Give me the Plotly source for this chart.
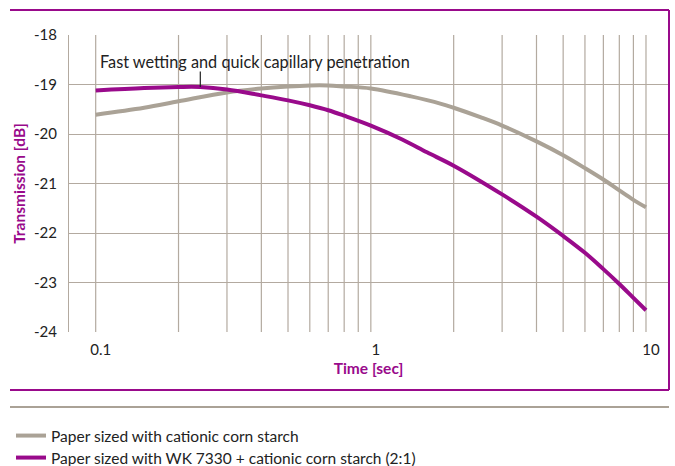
import numpy as np
import plotly.graph_objects as go

# Data
t_gray = [0.1, 0.15, 0.2, 0.3, 0.4, 0.5, 0.6, 0.7, 0.8, 1.0, 1.4, 1.8, 2, 2.5, 3, 4, 5, 6, 7, 8, 9, 10]
v_gray = [-19.61, -19.47, -19.34, -19.16, -19.08, -19.04, -19.02, -19.02, -19.04, -19.08,
          -19.24, -19.39, -19.47, -19.66, -19.83, -20.15, -20.43, -20.69, -20.92, -21.14, -21.33, -21.48]
t_purple = [0.1, 0.15, 0.2, 0.24, 0.3, 0.4, 0.5, 0.6, 0.7, 0.8, 1.0, 1.3, 1.6, 2, 3, 4, 5, 6, 7, 8, 9, 10]
v_purple = [-19.12, -19.07, -19.05, -19.05, -19.10, -19.22, -19.32, -19.42, -19.52, -19.63, -19.83,
            -20.11, -20.37, -20.64, -21.22, -21.67, -22.06, -22.40, -22.73, -23.03, -23.31, -23.56]
name_gray = "Paper sized with cationic corn starch"
name_purple = "Paper sized with WK 7330 + cationic corn starch (2:1)"
x_ticks = [0.1, 1, 10]
x_ticklabels = ["0.1", "1", "10"]
y_ticks = [-24, -23, -22, -21, -20, -19, -18]
y_ticklabels = ["-24", "-23", "-22", "-21", "-20", "-19", "-18"]
annotation_text = "Fast wetting and quick capillary penetration"
annotation_t = 0.24
annotation_v = -19.05

PURPLE = "#990a8b"
GRAY = "#aaa296"
GRID = "#b3aaa0"
FONT = "Lato"

fig = go.Figure()
fig.add_trace(go.Scatter(x=t_gray, y=v_gray, mode="lines", name=name_gray, legend="legend",
                         line=dict(color=GRAY, width=4, shape="spline", smoothing=1.0)))
fig.add_trace(go.Scatter(x=t_purple, y=v_purple, mode="lines", name=name_purple, legend="legend2",
                         line=dict(color=PURPLE, width=4, shape="spline", smoothing=1.0)))

W, H = 675, 466
L, R, T, B = 69, 7, 35, 134
pw, ph = W - L - R, H - T - B


def px(xp):
    return (xp - L) / pw


def py(yp):
    return (H - B - yp) / ph


grid_vals = [m * 10.0 ** e for e in (-1, 0) for m in range(1, 10)] + [10]

legend_common = dict(xanchor="left", yanchor="middle", font=dict(size=15.5, color="#222222"),
                     bgcolor="rgba(0,0,0,0)", borderwidth=0)

fig.update_layout(
    width=W, height=H,
    margin=dict(l=L, r=R, t=T, b=B, autoexpand=False),
    paper_bgcolor="white", plot_bgcolor="white",
    font=dict(family=FONT, size=15, color="#222222"),
    showlegend=True,
    legend=dict(x=px(11), y=py(436), **legend_common),
    legend2=dict(x=px(11), y=py(458), **legend_common),
    xaxis=dict(type="log", range=[-1.097, 1.08],
               tickvals=x_ticks, ticktext=x_ticklabels,
               showgrid=False, zeroline=False,
               showline=False, ticks="",
               ticklabelshift=5, ticklabelstandoff=7,
               title=dict(text="<b>Time [sec]</b>", font=dict(color=PURPLE, size=15.5), standoff=6)),
    yaxis=dict(range=[-24, -18], tickvals=y_ticks, ticktext=y_ticklabels,
               showgrid=True, gridcolor=GRID, gridwidth=1.2, zeroline=False,
               showline=True, linecolor=GRID, linewidth=1.2, ticks="",
               ticklabelstandoff=8,
               title=dict(text="<b>Transmission [dB]</b>", font=dict(color=PURPLE, size=15.5), standoff=4)),
)

shapes = []
for g in grid_vals:
    shapes.append(dict(type="line", xref="x", yref="paper", x0=g, x1=g, y0=0, y1=1,
                       line=dict(color=GRID, width=1.2), layer="below"))
shapes.append(dict(type="line", xref="paper", yref="paper", x0=px(10), x1=px(669), y0=py(10), y1=py(10),
                   line=dict(color=PURPLE, width=2)))
shapes.append(dict(type="line", xref="paper", yref="paper", x0=px(669), x1=px(669), y0=py(10), y1=py(390),
                   line=dict(color=PURPLE, width=2)))
shapes.append(dict(type="line", xref="paper", yref="paper", x0=px(10), x1=px(669), y0=py(390), y1=py(390),
                   line=dict(color=PURPLE, width=2)))
shapes.append(dict(type="line", xref="paper", yref="paper", x0=px(10), x1=px(669), y0=py(407), y1=py(407),
                   line=dict(color=GRAY, width=2)))
fig.update_layout(shapes=shapes)

fig.add_annotation(x=px(98), y=py(61), xref="paper", yref="paper", text=annotation_text,
                   showarrow=False, xanchor="left", yanchor="middle",
                   font=dict(size=16.3, color="#222222"))
fig.add_annotation(x=np.log10(annotation_t), y=annotation_v, xref="x", yref="y", text=" ",
                   font=dict(size=8),
                   showarrow=True, arrowhead=0, arrowwidth=1.2, arrowcolor="#222222",
                   ax=0, ay=-22, standoff=0)

fig.write_html("out.html", config={"displayModeBar": False},
               post_script="document.body.style.margin='0';")
